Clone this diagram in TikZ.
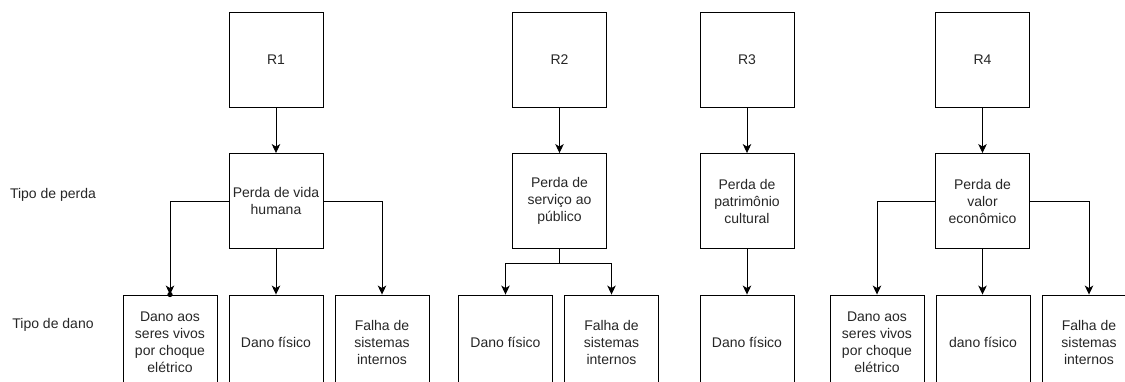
\documentclass[tikz,border=0pt]{standalone}
\usepackage{fontspec}
\setmainfont{Liberation Sans}
\usetikzlibrary{arrows.meta}
\begin{document}
\begin{tikzpicture}[x=1pt,y=-1pt,
  box/.style={draw=black, line width=0.9pt, minimum width=94pt, minimum height=95pt, inner sep=2pt, align=center, text=black!85, font=\fontsize{14}{17}\selectfont},
  lbl/.style={text=black!85, font=\fontsize{14}{17}\selectfont, inner sep=0pt},
  conn/.style={draw=black, line width=0.9pt, -{Stealth[length=9pt,width=8.5pt,inset=2.5pt]}},
  wire/.style={draw=black, line width=0.9pt}]
\useasboundingbox (0,0) rectangle (1125,382);
\clip (0,0) rectangle (1125,382);
% row labels
\node[lbl] (tp) at (53,195) {Tipo de perda};
\node[lbl] (td) at (53,325) {Tipo de dano};
% column 1
\node[box] (r1) at (276,59.5) {R1};
\node[box] (p1) at (276,201) {Perda de vida\\humana};
\node[box] (b11) at (170,342.5) {Dano aos\\seres vivos\\por choque\\elétrico};
\node[box] (b12) at (276,342.5) {Dano físico};
\node[box] (b13) at (382,342.5) {Falha de\\sistemas\\internos};
% column 2
\node[box] (r2) at (559.5,59.5) {R2};
\node[box] (p2) at (559.5,201) {Perda de\\serviço ao\\público};
\node[box] (b21) at (505.5,342.5) {Dano físico};
\node[box] (b22) at (611.5,342.5) {Falha de\\sistemas\\internos};
% column 3
\node[box] (r3) at (747,59.5) {R3};
\node[box] (p3) at (747,201) {Perda de\\patrimônio\\cultural};
\node[box] (b31) at (747,342.5) {Dano físico};
% column 4
\node[box] (r4) at (982.5,59.5) {R4};
\node[box] (p4) at (982.5,201) {Perda de\\valor\\econômico};
\node[box] (b41) at (877,342.5) {Dano aos\\seres vivos\\por choque\\elétrico};
\node[box] (b42) at (983,342.5) {dano físico};
\node[box] (b43) at (1089,342.5) {Falha de\\sistemas\\internos};
% connectors column 1
\draw[conn] (r1) -- (p1);
\draw[conn] (p1.west) -| (b11.north);
\fill[black] (b11.north) circle (2.6pt);
\draw[conn] (p1) -- (b12);
\draw[conn] (p1.east) -| (b13.north);
% column 2
\coordinate (j2) at (559.5,263);
\draw[wire] (p2.south) -- (j2);
\draw[conn] (j2) -| (b21.north);
\draw[conn] (j2) -| (b22.north);
% column 3
\draw[conn] (r3) -- (p3);
\draw[conn] (p3) -- (b31);
\draw[conn] (r2) -- (p2);
% column 4
\draw[conn] (r4) -- (p4);
\draw[conn] (p4.west) -| (b41.north);
\draw[conn] (p4.south) -- (p4.south |- b42.north);
\draw[conn] (p4.east) -| (b43.north);
\end{tikzpicture}
\end{document}
